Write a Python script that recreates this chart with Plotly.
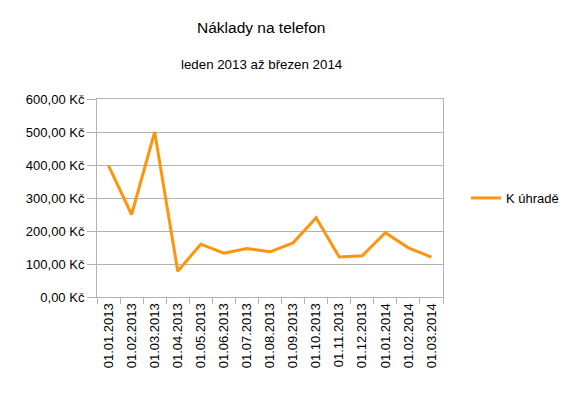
import plotly.graph_objects as go

categories = ["01.01.2013", "01.02.2013", "01.03.2013", "01.04.2013", "01.05.2013",
              "01.06.2013", "01.07.2013", "01.08.2013", "01.09.2013", "01.10.2013",
              "01.11.2013", "01.12.2013", "01.01.2014", "01.02.2014", "01.03.2014"]
k_uhrade = [398, 250, 500, 78, 160, 133, 147, 137, 164, 240, 121, 125, 195, 149, 121]
ytick_vals = [0, 100, 200, 300, 400, 500, 600]
ytick_labels = ["0,00 Kč", "100,00 Kč", "200,00 Kč", "300,00 Kč", "400,00 Kč", "500,00 Kč", "600,00 Kč"]

W, H = 570, 395
L, R, T, B = 97, 443, 99, 297
pw = R - L
ph = B - T

fig = go.Figure()
fig.add_trace(go.Scatter(x=categories, y=k_uhrade, mode="lines", name="K úhradě",
                         line=dict(color="#ff950e", width=3)))

grid = "#b3b3b3"
fig.update_layout(
    width=W, height=H,
    margin=dict(l=L, r=W - R, t=T, b=H - B, pad=0, autoexpand=False),
    paper_bgcolor="white", plot_bgcolor="white",
    font=dict(family="Liberation Sans, Arial, sans-serif", size=13, color="black"),
    showlegend=True,
    legend=dict(x=(466 - L) / pw, xanchor="left", y=0.5, yanchor="middle",
                font=dict(size=13), bgcolor="rgba(0,0,0,0)"),
    xaxis=dict(type="category", tickangle=-90, tickson="boundaries", ticks="outside",
               ticklen=6, tickcolor=grid, showline=True, linecolor=grid, mirror=True,
               showgrid=False, tickfont=dict(size=13), range=[-0.5, len(categories) - 0.5],
               zeroline=False, automargin=False),
    yaxis=dict(range=[0, 600], tickvals=ytick_vals, ticktext=ytick_labels,
               ticks="outside", ticklen=9, tickcolor=grid, showline=True, linecolor=grid,
               mirror=True, showgrid=True, gridcolor=grid, gridwidth=1, zeroline=False,
               tickfont=dict(size=13), automargin=False),
    annotations=[
        dict(text="Náklady na telefon", x=(261 - L) / pw, y=(B - 27) / ph, xref="paper", yref="paper",
             showarrow=False, font=dict(size=15.5), xanchor="center", yanchor="middle"),
        dict(text="leden 2013 až březen 2014", x=(261 - L) / pw, y=(B - 64) / ph, xref="paper", yref="paper",
             showarrow=False, font=dict(size=13.3), xanchor="center", yanchor="middle"),
    ],
)

fig.write_html("out.html", config={"displayModeBar": False},
               post_script="document.body.style.margin='0';document.body.style.padding='0';")
